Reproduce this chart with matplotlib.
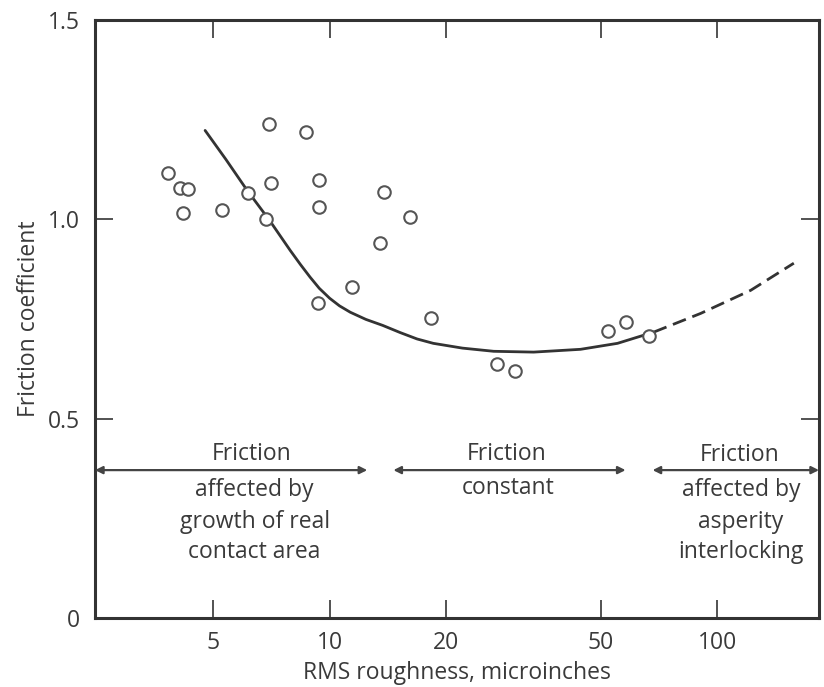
import numpy as np
import matplotlib.pyplot as plt
from matplotlib.ticker import FixedLocator, FixedFormatter, NullLocator

plt.rcParams['font.family'] = ['Open Sans', 'DejaVu Sans']

# measured points: RMS roughness (microinches) and friction coefficient
rough = [3.83, 4.11, 4.31, 4.18, 5.28, 6.16, 6.85, 6.96, 7.07, 8.7, 9.39, 9.39,
         9.35, 11.4, 13.5, 13.8, 16.1, 18.3, 27.1, 30.1, 52.1, 58.3, 66.5]
friction = [1.115, 1.078, 1.075, 1.015, 1.023, 1.065, 1.0, 1.238, 1.09, 1.22, 1.098, 1.03,
            0.79, 0.83, 0.94, 1.068, 1.005, 0.752, 0.637, 0.619, 0.719, 0.742, 0.707]

# drawn trend line (solid part) and the extrapolated dashed part
curve_x = [4.77, 5.4, 6.12, 7.0, 7.91, 8.4, 8.9, 9.4, 10.0, 10.6, 11.3, 12.4, 13.7,
           15.2, 16.8, 18.5, 22.0, 26.5, 33.6, 44.4, 55.3, 68.5]
curve_y = [1.223, 1.15, 1.073, 0.997, 0.922, 0.887, 0.855, 0.827, 0.802, 0.783, 0.767,
           0.749, 0.734, 0.716, 0.700, 0.689, 0.677, 0.669, 0.667, 0.674, 0.689, 0.717]
dash_x = [68.5, 90.6, 122, 157.6]
dash_y = [0.717, 0.764, 0.822, 0.890]

# region boundaries on the roughness axis
region_edges = [12.5, 14.6, 58.0, 68.1]
region_level = 0.371

xticks = [5, 10, 20, 50, 100]
yticks = [0, 0.5, 1.0, 1.5]
ytick_labels = ['0', '0.5', '1.0', '1.5']

ink = '#333333'
txt = '#3a3a3a'
fs = 16.5

fig = plt.figure(figsize=(8.24, 6.87), dpi=100)
ax = fig.add_axes([0.1153, 0.1004, 0.8786, 0.8705])

ax.plot(curve_x, curve_y, color=ink, lw=2.0, solid_capstyle='round', solid_joinstyle='round')
ax.plot(dash_x, dash_y, color=ink, lw=2.0, ls=(0, (5, 2.5)))
ax.plot(rough, friction, 'o', mfc='white', mec='#555555', mew=1.5, ms=9, zorder=3)

ax.set_xscale('log')
ax.set_xlim(2.48, 183)
ax.set_ylim(0, 1.5)

# region arrows
xl, xr = ax.get_xlim()
spans = [(xl, region_edges[0]), (region_edges[1], region_edges[2]), (region_edges[3], xr)]
for a, b in spans:
    ax.annotate('', xy=(a, region_level), xytext=(b, region_level),
                arrowprops=dict(arrowstyle='<|-|>', color='#444444', lw=1.6,
                                mutation_scale=11, shrinkA=0, shrinkB=0))

# region texts
kw = dict(ha='center', va='center', fontsize=fs, color=txt)
ax.text(6.3, 0.411, 'Friction', **kw)
ax.text(6.4, 0.321, 'affected by', **kw)
ax.text(6.4, 0.241, 'growth of real', **kw)
ax.text(6.4, 0.165, 'contact area', **kw)
ax.text(28.6, 0.411, 'Friction', **kw)
ax.text(28.8, 0.326, 'constant', **kw)
ax.text(114, 0.409, 'Friction', **kw)
ax.text(115, 0.321, 'affected by', **kw)
ax.text(115, 0.241, 'asperity', **kw)
ax.text(115, 0.165, 'interlocking', **kw)

ax.xaxis.set_major_locator(FixedLocator(xticks))
ax.xaxis.set_major_formatter(FixedFormatter([str(t) for t in xticks]))
ax.xaxis.set_minor_locator(NullLocator())
ax.yaxis.set_major_locator(FixedLocator(yticks))
ax.yaxis.set_major_formatter(FixedFormatter(ytick_labels))

ax.tick_params(direction='in', length=13, width=1.3, color='#444444',
               top=True, right=True, labelsize=fs, labelcolor=txt)
ax.tick_params(axis='x', pad=9)
ax.tick_params(axis='y', pad=11)

for s in ax.spines.values():
    s.set_linewidth(2.2)
    s.set_color(ink)

ax.set_xlabel('RMS roughness, microinches', fontsize=fs, color=txt, labelpad=5)
ax.set_ylabel('Friction coefficient', fontsize=fs, color=txt, labelpad=5)

fig.savefig('out.png', dpi=100)
